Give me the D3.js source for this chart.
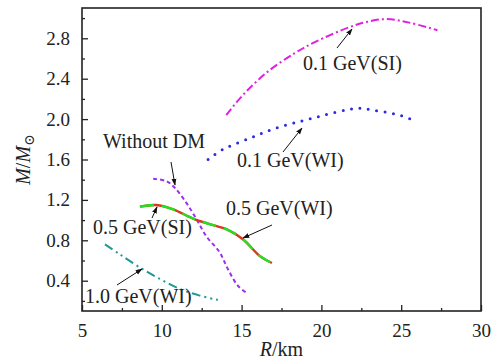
<!DOCTYPE html>
<html>
<head>
<meta charset="utf-8">
<script src="https://cdn.jsdelivr.net/npm/d3@7"></script>
<style>
  body { margin: 0; background: #fff; }
  svg text { font-family: "Liberation Serif", "Times New Roman", Times, "DejaVu Serif", serif; }
  .axis path { display: none; }
  .axis line { stroke: #222; stroke-width: 1.3; }
  .axis text { font-size: 19px; fill: #222; }
  .note { font-size: 20px; fill: #222; }
</style>
</head>
<body>
<div id="chart"></div>
<script>
// radius (km) and mass (M/Msun)
const siLightR = [14.04, 14.7, 15.4, 16.64, 18.3, 19.56, 21.75, 22.79, 24.04, 25.5, 27.27];
const siLightM = [2.04, 2.17, 2.29, 2.47, 2.65, 2.76, 2.91, 2.96, 2.99, 2.955, 2.88];

const wiLightR = [12.9, 13.83, 15.5, 16.96, 18.63, 20.08, 21.54, 22.38, 23.2, 24.9, 25.6];
const wiLightM = [1.60, 1.70, 1.81, 1.90, 1.976, 2.035, 2.09, 2.108, 2.09, 2.04, 2.0];

const noDmR = [9.46, 10.29, 10.81, 11.54, 12.17, 12.79, 13.63, 14.14, 14.77, 15.4];
const noDmM = [1.41, 1.385, 1.32, 1.17, 1.01, 0.84, 0.68, 0.515, 0.35, 0.27];

const halfR = [8.63, 9.67, 10.71, 11.96, 13.0, 14.04, 15.08, 16.13, 16.9];
const halfM = [1.133, 1.149, 1.106, 1.015, 0.96, 0.91, 0.81, 0.646, 0.575];

const heavyR = [6.44, 7.38, 8.63, 9.88, 11.13, 12.38, 13.52];
const heavyM = [0.76, 0.66, 0.53, 0.417, 0.318, 0.252, 0.21];

const xMajor = [5, 10, 15, 20, 25, 30];
const xMinor = [7.5, 12.5, 17.5, 22.5, 27.5];
const yMajor = [0.4, 0.8, 1.2, 1.6, 2.0, 2.4, 2.8];
const yMinor = [0.2, 0.6, 1.0, 1.4, 1.8, 2.2, 2.6, 3.0];

const width = 494;
const height = 362;
const margin = { top: 8, right: 13, bottom: 51, left: 82 };
const innerWidth = width - margin.left - margin.right;
const innerHeight = height - margin.top - margin.bottom;

const svg = d3.select("#chart")
  .append("svg")
  .attr("width", width)
  .attr("height", height);

const g = svg.append("g")
  .attr("transform", `translate(${margin.left},${margin.top})`);

const x = d3.scaleLinear().domain([5, 30]).range([0, innerWidth]);
const y = d3.scaleLinear().domain([0.1, 3.1]).range([innerHeight, 0]);

const zip = (rs, ms) => rs.map((r, i) => ({ r: r, m: ms[i] }));
const line = d3.line()
  .x(d => x(d.r))
  .y(d => y(d.m))
  .curve(d3.curveCatmullRom.alpha(0.5));

// axes, ticks point inward
g.append("g")
  .attr("class", "axis")
  .attr("transform", `translate(0,${innerHeight})`)
  .call(d3.axisBottom(x).tickValues(xMajor).tickSize(-6).tickPadding(13).tickFormat(d3.format("d")));
g.append("g")
  .attr("class", "axis")
  .attr("transform", `translate(0,${innerHeight})`)
  .call(d3.axisBottom(x).tickValues(xMinor).tickSize(-3).tickFormat(""));
g.append("g")
  .attr("class", "axis")
  .call(d3.axisLeft(y).tickValues(yMajor).tickSize(-6).tickPadding(12).tickFormat(d3.format(".1f")));
g.append("g")
  .attr("class", "axis")
  .call(d3.axisLeft(y).tickValues(yMinor).tickSize(-3).tickFormat(""));

g.selectAll(".axis text").attr("font-family", null);

g.append("rect")
  .attr("width", innerWidth)
  .attr("height", innerHeight)
  .attr("fill", "none")
  .attr("stroke", "#222")
  .attr("stroke-width", 1.6);

// curves
g.append("path")
  .datum(zip(siLightR, siLightM))
  .attr("d", line)
  .attr("fill", "none")
  .attr("stroke", "#e020e0")
  .attr("stroke-width", 2)
  .attr("stroke-dasharray", "8,3,2,3");

g.append("path")
  .datum(zip(wiLightR, wiLightM))
  .attr("d", line)
  .attr("fill", "none")
  .attr("stroke", "#2a2ae6")
  .attr("stroke-width", 3)
  .attr("stroke-linecap", "round")
  .attr("stroke-dasharray", "0,8.5");

g.append("path")
  .datum(zip(noDmR, noDmM))
  .attr("d", line)
  .attr("fill", "none")
  .attr("stroke", "#9a30f0")
  .attr("stroke-width", 2)
  .attr("stroke-dasharray", "4,3");

g.append("path")
  .datum(zip(halfR, halfM))
  .attr("d", line)
  .attr("fill", "none")
  .attr("stroke", "#d83a1a")
  .attr("stroke-width", 2.4);

g.append("path")
  .datum(zip(halfR, halfM))
  .attr("d", line)
  .attr("fill", "none")
  .attr("stroke", "#22e022")
  .attr("stroke-width", 2.4)
  .attr("stroke-dasharray", "14,8");

g.append("path")
  .datum(zip(heavyR, heavyM))
  .attr("d", line)
  .attr("fill", "none")
  .attr("stroke", "#1f9a94")
  .attr("stroke-width", 2)
  .attr("stroke-dasharray", "9,4,2,4,2,4");

// annotations
svg.append("defs").append("marker")
  .attr("id", "arrow")
  .attr("viewBox", "0 0 10 10")
  .attr("refX", 9)
  .attr("refY", 5)
  .attr("markerWidth", 7)
  .attr("markerHeight", 7)
  .attr("orient", "auto")
  .append("path")
  .attr("d", "M0,1.5 L10,5 L0,8.5 z")
  .attr("fill", "#111");

const notes = [
  { text: "0.1 GeV(SI)", tx: 303, ty: 70, from: [337, 48], to: [352, 29] },
  { text: "0.1 GeV(WI)", tx: 237, ty: 167, from: [283, 152], to: [302, 128] },
  { text: "Without DM", tx: 103, ty: 148, from: [171, 162], to: [175, 185] },
  { text: "0.5 GeV(SI)", tx: 93, ty: 234, from: [152, 218], to: [157, 207] },
  { text: "0.5 GeV(WI)", tx: 226, ty: 215, from: [272, 225], to: [243, 238] },
  { text: "1.0 GeV(WI)", tx: 85, ty: 303, from: [117, 285], to: [142, 269] }
];

svg.selectAll(".note")
  .data(notes)
  .join("text")
  .attr("class", "note")
  .attr("x", d => d.tx)
  .attr("y", d => d.ty)
  .text(d => d.text);

svg.selectAll(".pointer")
  .data(notes)
  .join("line")
  .attr("class", "pointer")
  .attr("x1", d => d.from[0])
  .attr("y1", d => d.from[1])
  .attr("x2", d => d.to[0])
  .attr("y2", d => d.to[1])
  .attr("stroke", "#111")
  .attr("stroke-width", 1)
  .attr("marker-end", "url(#arrow)");

// axis titles
const xTitle = svg.append("text")
  .attr("class", "note")
  .attr("x", margin.left + innerWidth / 2)
  .attr("y", 356)
  .attr("text-anchor", "middle");
xTitle.append("tspan").attr("font-style", "italic").text("R");
xTitle.append("tspan").text("/km");

const yTitle = svg.append("text")
  .attr("class", "note")
  .attr("transform", "rotate(-90)")
  .attr("x", -(margin.top + innerHeight / 2))
  .attr("y", 30)
  .attr("text-anchor", "middle");
yTitle.append("tspan").attr("font-style", "italic").text("M");
yTitle.append("tspan").text("/");
yTitle.append("tspan").attr("font-style", "italic").text("M");
yTitle.append("tspan").attr("font-size", "14px").attr("dy", 4).text("⊙");
</script>
</body>
</html>
